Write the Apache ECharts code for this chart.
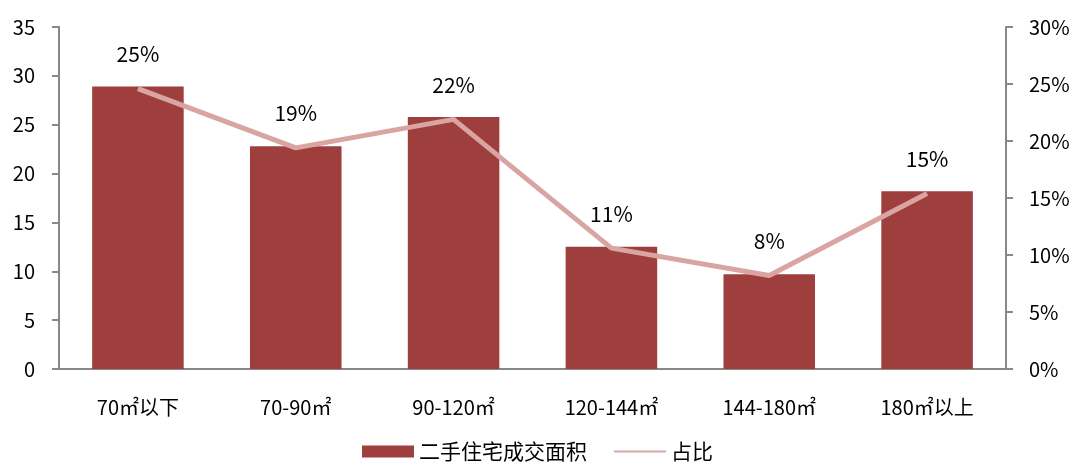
<!DOCTYPE html>
<html><head><meta charset="utf-8">
<script src="https://cdn.jsdelivr.net/npm/echarts@6/dist/echarts.min.js"></script>
<style>html,body{margin:0;padding:0;background:#fff}#c{width:1075px;height:467px}</style>
</head><body><div id="c"></div>
<script>
const categories = ['70㎡以下', '70-90㎡', '90-120㎡', '120-144㎡', '144-180㎡', '180㎡以上'];
const areaValues = [28.9, 22.8, 25.8, 12.5, 9.7, 18.2];
const shareValues = [24.6, 19.4, 21.9, 10.6, 8.2, 15.4];
const leftTicks = {min: 0, max: 35, interval: 5};
const rightTicks = {min: 0, max: 30, interval: 5};
const seriesNames = ['二手住宅成交面积', '占比'];

const font = '"Noto Sans CJK SC", "Noto Sans", sans-serif';
const chart = echarts.init(document.getElementById('c'));
chart.setOption({
  animation: false,
  textStyle: {fontFamily: font},
  grid: {left: 59, right: 69, top: 27, bottom: 98, containLabel: false},
  legend: {
    bottom: 0, left: 'center', itemWidth: 52, itemHeight: 12, itemGap: 26,
    textStyle: {fontSize: 21, color: '#000', fontFamily: font},
    data: [{name: seriesNames[0], icon: 'rect'}, {name: seriesNames[1], itemStyle: {opacity: 0}}]
  },
  xAxis: {
    type: 'category', data: categories,
    axisLine: {lineStyle: {color: '#888', width: 2}},
    axisTick: {show: false},
    axisLabel: {fontSize: 20, color: '#000', margin: 28, fontFamily: font}
  },
  yAxis: [{
    type: 'value', min: leftTicks.min, max: leftTicks.max, interval: leftTicks.interval,
    axisLine: {show: true, lineStyle: {color: '#888', width: 2}},
    axisTick: {show: true, length: 7, lineStyle: {color: '#888', width: 2}},
    splitLine: {show: false},
    axisLabel: {fontSize: 20, color: '#000', margin: 24, fontFamily: font}
  }, {
    type: 'value', min: rightTicks.min, max: rightTicks.max, interval: rightTicks.interval,
    position: 'right',
    axisLine: {show: true, lineStyle: {color: '#888', width: 2}},
    axisTick: {show: true, length: 7, lineStyle: {color: '#888', width: 2}},
    splitLine: {show: false},
    axisLabel: {fontSize: 20, color: '#000', margin: 23, formatter: '{value}%', fontFamily: font}
  }],
  series: [{
    name: seriesNames[0], type: 'bar', data: areaValues, barWidth: '58%',
    itemStyle: {color: '#9E3F3E'}
  }, {
    name: seriesNames[1], type: 'line', yAxisIndex: 1, data: shareValues,
    symbol: 'circle', symbolSize: 0, showSymbol: true,
    lineStyle: {color: '#D9A5A3', width: 5}, itemStyle: {color: '#D9A5A3'},
    label: {show: true, position: 'top', distance: 24, fontSize: 21, color: '#000', fontFamily: font,
      formatter: p => Math.round(p.value) + '%'}
  }]
});
</script></body></html>
